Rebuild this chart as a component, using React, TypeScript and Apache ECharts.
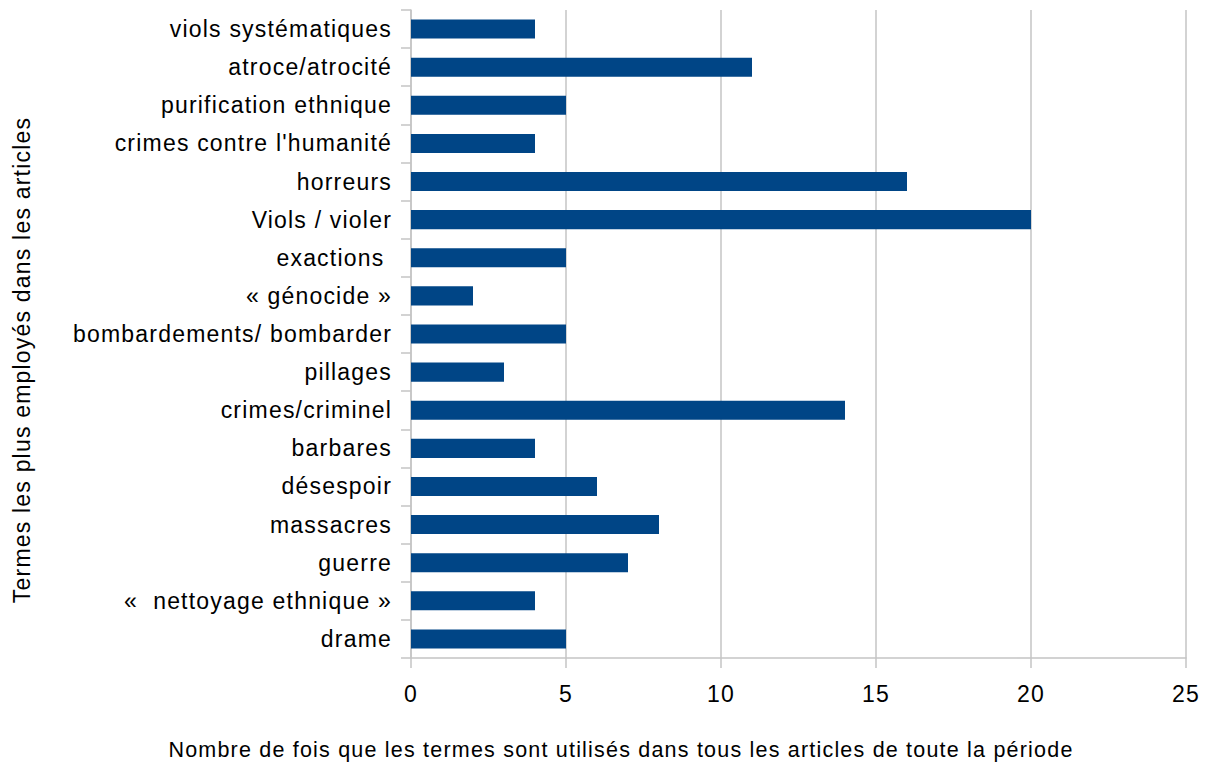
import React, { useEffect, useRef } from "react";
import * as echarts from "echarts";

const categories = [
  "drame",
  "«  nettoyage ethnique »",
  "guerre",
  "massacres",
  "désespoir",
  "barbares",
  "crimes/criminel",
  "pillages",
  "bombardements/ bombarder",
  "« génocide »",
  "exactions ",
  "Viols / violer",
  "horreurs",
  "crimes contre l'humanité",
  "purification ethnique",
  "atroce/atrocité",
  "viols systématiques",
];
const values = [5, 4, 7, 8, 6, 4, 14, 3, 5, 2, 5, 20, 16, 4, 5, 11, 4];
const xTitle =
  "Nombre de fois que les termes sont utilisés dans tous les articles de toute la période";
const yTitle = "Termes les plus employés dans les articles";

export default function App() {
  const ref = useRef<HTMLDivElement>(null);
  useEffect(() => {
    if (!ref.current) return;
    const chart = echarts.init(ref.current, undefined, { renderer: "svg" });
    const font = "'Liberation Sans', Arial, sans-serif";
    const grid = "#c4c4c4";
    chart.setOption({
      animation: false,
      backgroundColor: "#ffffff",
      textStyle: { fontFamily: font },
      grid: { left: 411, top: 10, width: 775, height: 648, containLabel: false },
      xAxis: {
        type: "value",
        min: 0,
        max: 25,
        interval: 5,
        axisLine: { show: true, lineStyle: { color: grid, width: 1.5 } },
        axisTick: { show: true, length: 10, lineStyle: { color: grid, width: 1.5 } },
        splitLine: { show: true, lineStyle: { color: grid, width: 1.5 } },
        axisLabel: { color: "#000", fontSize: 23, margin: 24, fontFamily: font },
      },
      yAxis: {
        type: "category",
        data: categories,
        axisLine: { show: true, lineStyle: { color: grid, width: 1.5 } },
        axisTick: { show: true, length: 10, lineStyle: { color: grid, width: 1.5 } },
        axisLabel: {
          color: "#000",
          fontSize: 23,
          margin: 19,
          interval: 0,
          fontFamily: font,
        },
        splitLine: { show: false },
      },
      series: [
        {
          type: "bar",
          data: values,
          barWidth: "50%",
          itemStyle: { color: "#004586" },
        },
      ],
      graphic: [
        {
          type: "text",
          x: 621,
          y: 750,
          style: {
            text: xTitle,
            fontSize: 21.5,
            fontFamily: font,
            fill: "#000",
            align: "center",
            verticalAlign: "middle",
          },
        },
        {
          type: "text",
          x: 22,
          y: 360,
          rotation: Math.PI / 2,
          style: {
            text: yTitle,
            fontSize: 23,
            fontFamily: font,
            fill: "#000",
            align: "center",
            verticalAlign: "middle",
          },
        },
      ],
    });
    return () => chart.dispose();
  }, []);
  return (
    <div
      ref={ref}
      style={{
        position: "fixed",
        left: 0,
        top: 0,
        width: 1210,
        height: 763,
        letterSpacing: "1.2px",
      }}
    />
  );
}
